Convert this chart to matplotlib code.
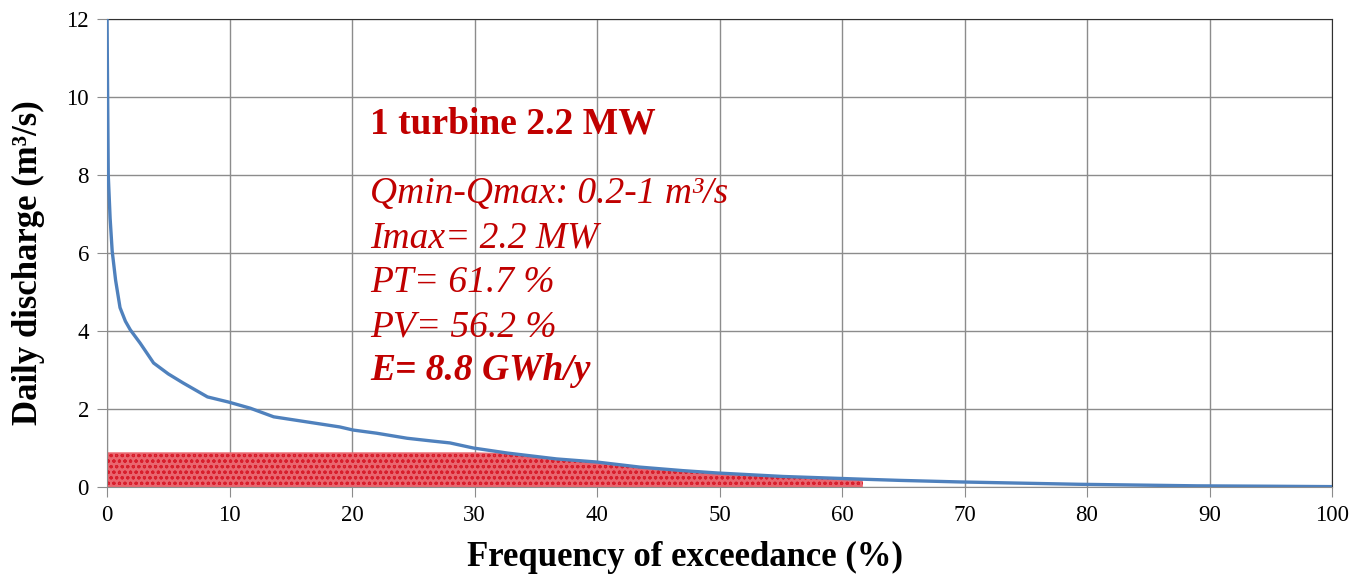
import numpy as np
import matplotlib.pyplot as plt

plt.rcParams['font.family'] = ['Liberation Serif', 'DejaVu Serif']
plt.rcParams['hatch.linewidth'] = 0.8

# flow duration curve
freq = [0, 0.05, 0.1, 0.25, 0.42, 0.7, 1.06, 1.5, 1.9, 2.7, 3.8, 5.0, 6.2, 8.2,
        9.9, 11.7, 13.6, 16.3, 19.0, 20.1, 22.0, 24.5, 26.5, 28.0, 29.9, 32.7,
        36.7, 40.0, 43.5, 47.0, 49.8, 55.2, 61.7, 64.7, 69.6, 79.3, 89.0, 95.0, 100.0]
discharge = [12.0, 10.0, 8.0, 6.9, 6.05, 5.3, 4.6, 4.25, 4.03, 3.69, 3.18, 2.9, 2.67, 2.31,
             2.18, 2.02, 1.80, 1.67, 1.54, 1.46, 1.38, 1.25, 1.18, 1.13, 1.0, 0.87,
             0.72, 0.64, 0.51, 0.42, 0.36, 0.27, 0.2, 0.17, 0.13, 0.07, 0.03, 0.02, 0.01]

q_turbine = 0.89      # flow taken by the turbine
pt_end = 61.7         # time of operation (%)

x_ticks = list(range(0, 101, 10))
y_ticks = list(range(0, 13, 2))

info_title = '1 turbine 2.2 MW'
info_lines = ['Qmin-Qmax: 0.2-1 m³/s', 'Imax= 2.2 MW', 'PT= 61.7 %', 'PV= 56.2 %']
info_energy = 'E= 8.8 GWh/y'

fig = plt.figure(figsize=(13.67, 5.76), dpi=100)
ax = fig.add_axes([0.0783, 0.1545, 0.8961, 0.8125])

f = np.array(freq)
q = np.array(discharge)
used = f <= pt_end
ax.fill_between(f[used], 0, np.minimum(q[used], q_turbine),
                facecolor='#e9666f', edgecolor='#d81e2c', hatch='ooo',
                linewidth=0, zorder=2)
ax.plot(f, q, color='#4f81bd', lw=2.4, zorder=3)

ax.set_xlim(0, 100)
ax.set_ylim(0, 12)
ax.set_xticks(x_ticks)
ax.set_yticks(y_ticks)
ax.grid(True, color='#8c8c8c', lw=1.0)
ax.set_axisbelow(True)
ax.tick_params(direction='out', length=7, color='#8c8c8c', labelsize=16.5, pad=6)
for s in ['left', 'bottom']:
    ax.spines[s].set_color('#8c8c8c')
for s in ['top', 'right']:
    ax.spines[s].set_color('#303030')

ax.set_xlabel('Frequency of exceedance (%)', fontsize=25, fontweight='bold')
ax.set_ylabel('Daily discharge (m³/s)', fontsize=25, fontweight='bold')
ax.xaxis.set_label_coords(0.472, -0.115)
ax.yaxis.set_label_coords(-0.051, 0.48)

red = '#c00000'
tx = 0.2707
fig.text(tx, 0.769, info_title, color=red, fontsize=27, fontweight='bold', va='baseline')
for i, line in enumerate(info_lines):
    fig.text(tx, 0.648 - i * 0.0775, line, color=red, fontsize=27, style='italic', va='baseline')
fig.text(tx, 0.340, info_energy, color=red, fontsize=27, style='italic',
         fontweight='bold', va='baseline')

fig.savefig('out.png', dpi=100)
